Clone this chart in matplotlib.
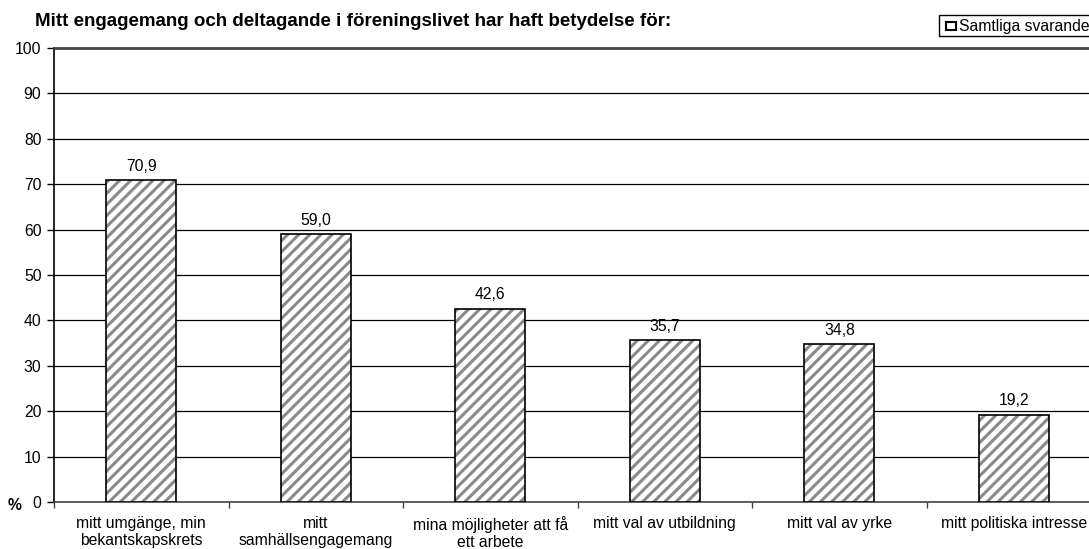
import numpy as np
import matplotlib.pyplot as plt
from matplotlib.patches import Rectangle

plt.rcParams['font.family'] = ['Liberation Sans', 'DejaVu Sans']
plt.rcParams['hatch.linewidth'] = 2.2

categories = ["mitt umgänge, min\nbekantskapskrets",
              "mitt\nsamhällsengagemang",
              "mina möjligheter att få\nett arbete",
              "mitt val av utbildning",
              "mitt val av yrke",
              "mitt politiska intresse"]
values = [70.9, 59.0, 42.6, 35.7, 34.8, 19.2]
yticks = list(range(0, 101, 10))

W, H = 1089, 549
fig = plt.figure(figsize=(W / 100, H / 100), dpi=100)
left, right, bottom, top = 54, 1101, 502, 48
ax = fig.add_axes([left / W, 1 - bottom / H, (right - left) / W, (bottom - top) / H])

x = np.arange(len(categories))
ax.bar(x, values, width=0.4, color='white', edgecolor='#8a8a8a', hatch='///',
       linewidth=0, zorder=3)
ax.bar(x, values, width=0.4, fill=False, edgecolor='black', linewidth=1.2, zorder=4)

for xi, v in zip(x, values):
    ax.text(xi, v + 1.4, f"{v:.1f}".replace('.', ','), ha='center', va='bottom',
            fontsize=11.3, zorder=5)

ax.set_xlim(-0.5, len(categories) - 0.5)
ax.set_ylim(0, 100)
ax.set_yticks(yticks)
ax.set_yticklabels([str(t) for t in yticks], fontsize=11.3)
ax.yaxis.grid(True, color='black', linewidth=0.9, zorder=0)
ax.set_axisbelow(True)

ax.set_xticks(np.arange(len(categories) + 1) - 0.5, minor=False)
ax.set_xticklabels([])
ax.set_xticks(x, minor=True)
ax.set_xticklabels(categories, minor=True, fontsize=11.3, linespacing=1.15)
ax.tick_params(axis='x', which='minor', length=0, pad=10)
ax.tick_params(axis='x', which='major', length=4, direction='out', width=1, color='#444444')
ax.tick_params(axis='y', length=5, width=1, pad=4, color='black')

ax.spines['right'].set_visible(False)
ax.spines['top'].set_color('#444444')
ax.spines['top'].set_linewidth(2)
ax.spines['left'].set_linewidth(1.2)
ax.spines['bottom'].set_linewidth(1.2)
ax.spines['bottom'].set_color('#444444')

fig.text(35 / W, 1 - 21 / H, "Mitt engagemang och deltagande i föreningslivet har haft betydelse för:",
         fontsize=13.5, fontweight='bold', va='center', ha='left')
fig.text(8 / W, 1 - 505 / H, "%", fontsize=11.3, fontweight='bold', va='center', ha='left')

# legend box
fig.patches.append(Rectangle((939 / W, 1 - 36 / H), 160 / W, 21 / H, transform=fig.transFigure,
                             facecolor='white', edgecolor='black', linewidth=1))
fig.patches.append(Rectangle((946 / W, 1 - 30 / H), 10 / W, 8 / H, transform=fig.transFigure,
                             facecolor='white', edgecolor='black', linewidth=1.5))
fig.text(959 / W, 1 - 26 / H, "Samtliga svarande", fontsize=11.3, va='center', ha='left')

fig.savefig("out.png", dpi=100)
